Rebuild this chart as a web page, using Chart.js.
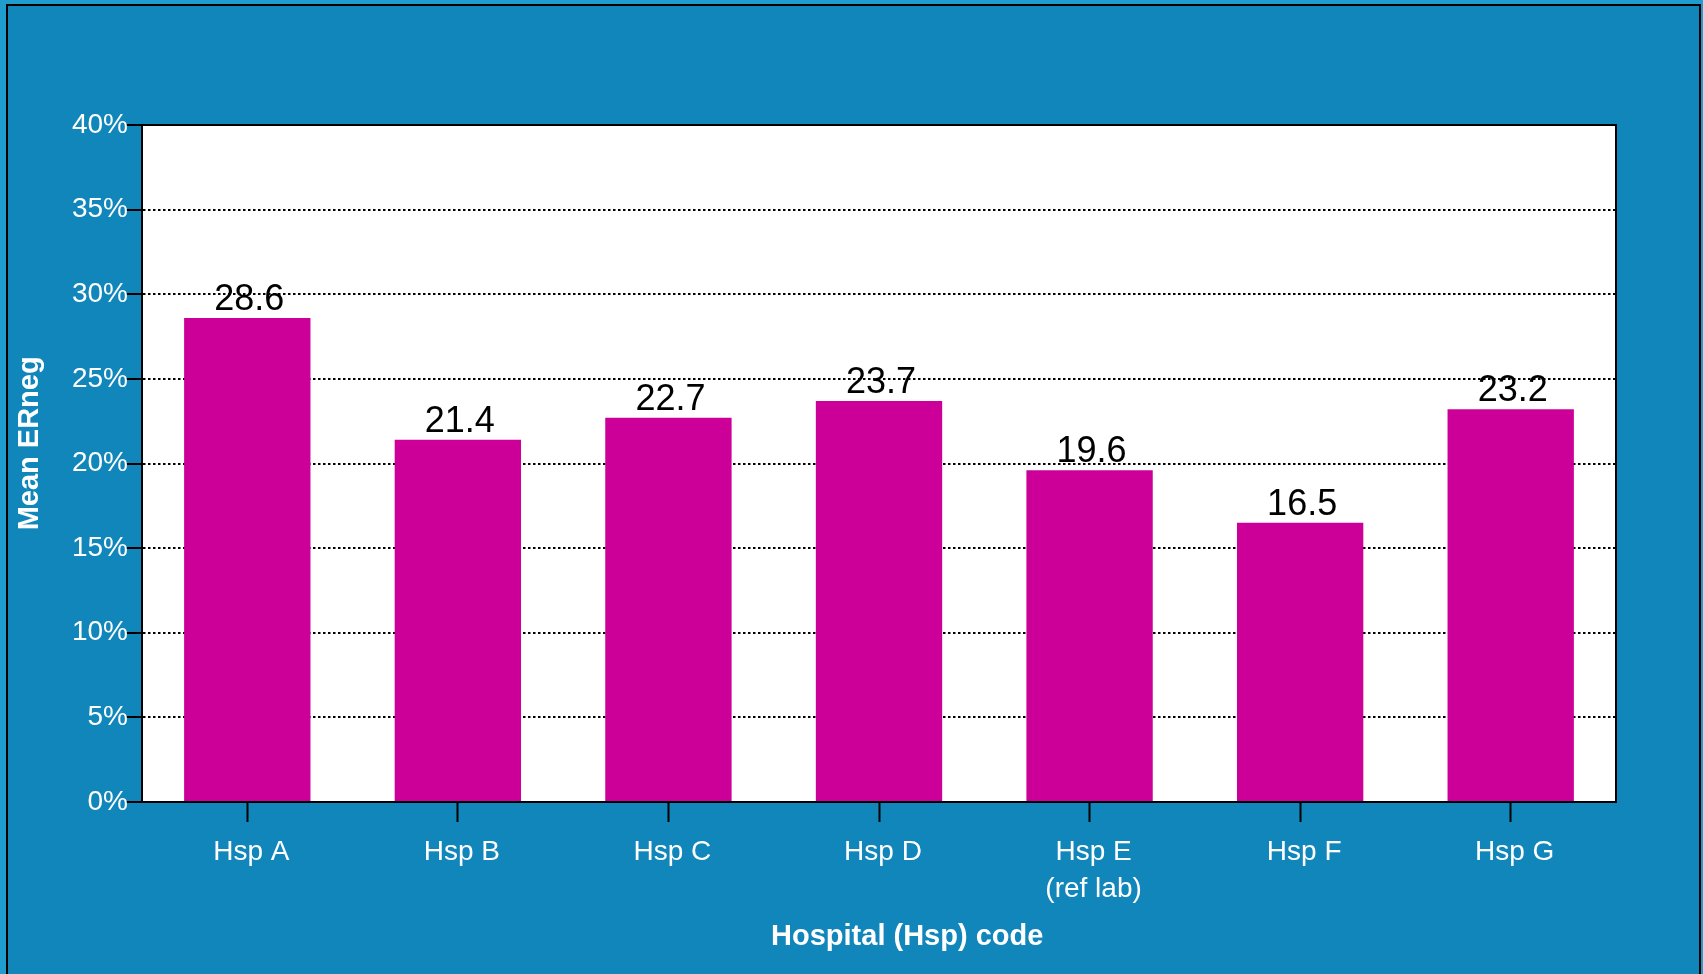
<!DOCTYPE html>
<html>
<head>
<meta charset="utf-8">
<title>Mean ERneg by hospital</title>
<script src="https://cdn.jsdelivr.net/npm/chart.js@4/dist/chart.umd.min.js"></script>
<style>
  html, body { margin: 0; padding: 0; overflow: hidden; background: #1f9dcf; }
  #wrap { width: 1703px; height: 974px; position: relative; }
</style>
</head>
<body>
<div id="wrap"><canvas id="chart"></canvas></div>
<script>
// === Data ===
const hospitals = [["Hsp A"], ["Hsp B"], ["Hsp C"], ["Hsp D"], ["Hsp E", "(ref lab)"], ["Hsp F"], ["Hsp G"]];
const meanERneg = [28.6, 21.4, 22.7, 23.7, 19.6, 16.5, 23.2];
const yTicks = [0, 5, 10, 15, 20, 25, 30, 35, 40];

const FONT = "'Liberation Sans', Arial, Helvetica, sans-serif";

// === Frame + white plot area ===
const framePlugin = {
  id: "frame",
  beforeDraw(chart) {
    const { ctx, width, height, chartArea: a } = chart;
    ctx.save();
    ctx.fillStyle = "#1f9dcf";
    ctx.fillRect(0, 0, width, height);
    ctx.fillStyle = "#1186bb";
    ctx.fillRect(7, 5, 1693, height);
    ctx.strokeStyle = "#000";
    ctx.lineWidth = 2;
    ctx.strokeRect(7, 5, 1693, height + 10);
    ctx.fillStyle = "#fff";
    ctx.fillRect(a.left, a.top, a.right - a.left, a.bottom - a.top);
    ctx.restore();
  },
  afterDraw(chart) {
    const { ctx, chartArea: a } = chart;
    ctx.save();
    ctx.strokeStyle = "#000";
    ctx.lineWidth = 2;
    ctx.beginPath();
    ctx.moveTo(a.left, a.top);
    ctx.lineTo(a.right, a.top);
    ctx.lineTo(a.right, a.bottom);
    ctx.stroke();
    ctx.restore();
  }
};

// === Value labels above the bars ===
const valueLabels = {
  id: "valueLabels",
  afterDatasetsDraw(chart) {
    const { ctx } = chart;
    const meta = chart.getDatasetMeta(0);
    ctx.save();
    ctx.fillStyle = "#000";
    ctx.font = "36px " + FONT;
    ctx.textAlign = "center";
    ctx.textBaseline = "alphabetic";
    meta.data.forEach((bar, i) => {
      ctx.fillText(meanERneg[i].toFixed(1), bar.x + 2, bar.y - 8);
    });
    ctx.restore();
  }
};

new Chart(document.getElementById("chart"), {
  type: "bar",
  data: {
    labels: hospitals,
    datasets: [{
      label: "Mean ERneg",
      data: meanERneg,
      backgroundColor: "#cc0099",
      borderWidth: 0,
      barPercentage: 0.6,
      categoryPercentage: 1.0
    }]
  },
  options: {
    responsive: true,
    maintainAspectRatio: false,
    animation: false,
    layout: { padding: { top: 125, right: 87, left: 0, bottom: 0 } },
    plugins: {
      legend: { display: false },
      tooltip: { enabled: false }
    },
    scales: {
      x: {
        offset: true,
        grid: {
          offset: false,
          drawOnChartArea: false,
          drawTicks: true,
          tickLength: 20,
          tickColor: "#000",
          tickWidth: 2
        },
        border: { color: "#000", width: 2 },
        ticks: {
          color: "#fff",
          padding: 12,
          labelOffset: 4,
          font: { family: FONT, size: 28, lineHeight: 1.32 }
        },
        title: {
          display: true,
          text: "       Hospital (Hsp) code",
          color: "#fff",
          font: { family: FONT, size: 29, weight: "bold" },
          padding: { top: 0, bottom: 20 }
        },
        afterFit(scale) { scale.height = 172; }
      },
      y: {
        min: 0,
        max: 40,
        afterBuildTicks(scale) { scale.ticks = yTicks.map(v => ({ value: v })); },
        grid: {
          color: "#000",
          lineWidth: 2,
          tickLength: 16,
          tickColor: "#000",
          tickWidth: 2,
          tickBorderDash: []
        },
        border: { color: "#000", width: 2, dash: [2.5, 2.5] },
        ticks: {
          color: "#fff",
          padding: -2,
          font: { family: FONT, size: 28 },
          callback: v => v + "%"
        },
        title: {
          display: true,
          text: "     Mean ERneg",
          color: "#fff",
          font: { family: FONT, size: 29, weight: "bold" },
          padding: { top: 13, bottom: 0 }
        },
        afterFit(scale) { scale.width = 142; }
      }
    }
  },
  plugins: [framePlugin, valueLabels]
});
</script>
</body>
</html>
